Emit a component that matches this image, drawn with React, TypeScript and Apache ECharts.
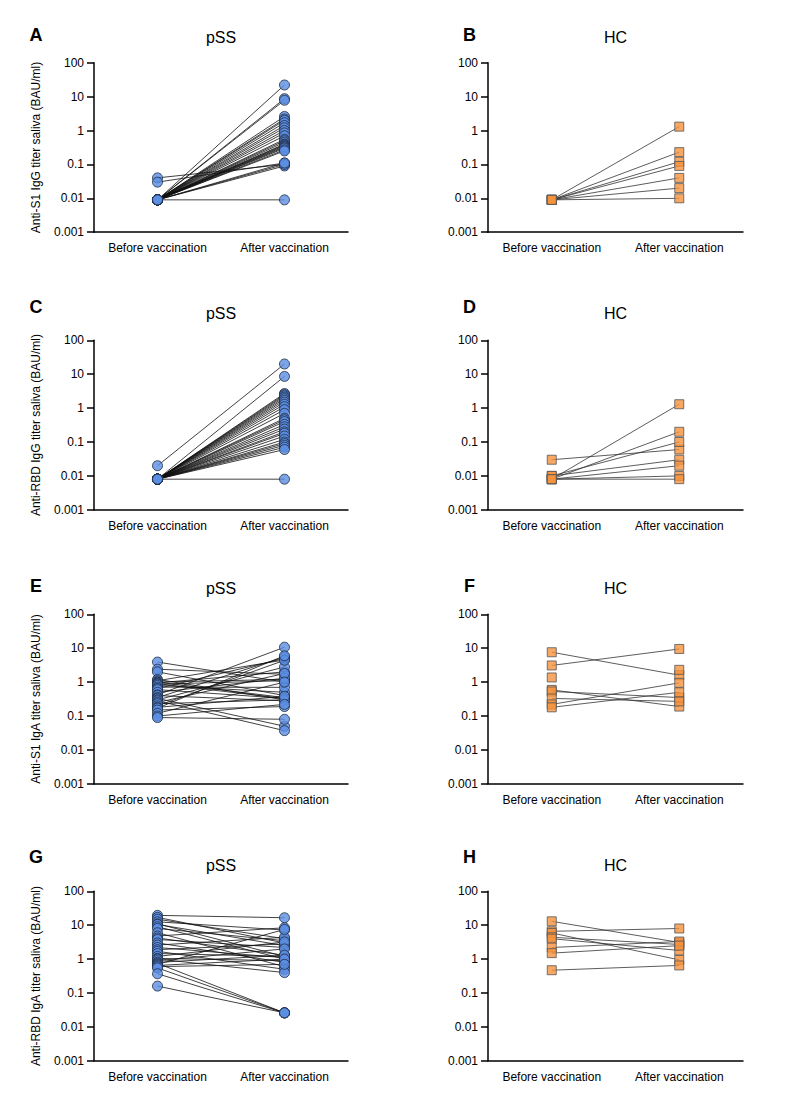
import React, { useEffect, useRef } from "react";
import * as echarts from "echarts";

const CATEGORIES = ["Before vaccination", "After vaccination"];

// Panel A: pSS anti-S1 IgG
const A_BEFORE = [0.009, 0.009, 0.009, 0.009, 0.009, 0.009, 0.009, 0.009, 0.009, 0.009, 0.009, 0.009, 0.009, 0.009, 0.009, 0.009, 0.009, 0.009, 0.009, 0.009, 0.009, 0.009, 0.009, 0.009, 0.009, 0.009, 0.04, 0.03, 0.009];
const A_AFTER = [22, 8.7, 7.8, 2.6, 2.2, 2.0, 1.7, 1.4, 1.2, 1.0, 0.85, 0.7, 0.55, 0.5, 0.45, 0.4, 0.38, 0.36, 0.34, 0.32, 0.3, 0.27, 0.25, 0.11, 0.1, 0.09, 0.1, 0.11, 0.009];

// Panel B: HC anti-S1 IgG
const B_BEFORE = [0.009, 0.009, 0.009, 0.009, 0.009, 0.009, 0.009];
const B_AFTER = [1.3, 0.23, 0.12, 0.09, 0.04, 0.02, 0.01];

// Panel C: pSS anti-RBD IgG
const C_BEFORE = [0.02, 0.008, 0.008, 0.008, 0.008, 0.008, 0.008, 0.008, 0.008, 0.008, 0.008, 0.008, 0.008, 0.008, 0.008, 0.008, 0.008, 0.008, 0.008, 0.008, 0.008, 0.008, 0.008, 0.008, 0.008, 0.008, 0.008, 0.008, 0.008];
const C_AFTER = [20, 8.6, 2.7, 2.5, 2.3, 2.1, 1.9, 1.7, 1.5, 1.3, 1.1, 0.9, 0.7, 0.5, 0.45, 0.4, 0.33, 0.28, 0.24, 0.2, 0.18, 0.15, 0.12, 0.1, 0.09, 0.08, 0.07, 0.06, 0.008];

// Panel D: HC anti-RBD IgG
const D_BEFORE = [0.03, 0.008, 0.008, 0.01, 0.01, 0.008, 0.008, 0.008];
const D_AFTER = [0.06, 1.3, 0.2, 0.1, 0.03, 0.02, 0.01, 0.008];

// Panel E: pSS anti-S1 IgA
const E_BEFORE = [3.9, 2.4, 2.0, 1.2, 1.1, 1.0, 1.0, 0.95, 0.9, 0.87, 0.8, 0.71, 0.65, 0.6, 0.5, 0.42, 0.4, 0.35, 0.33, 0.3, 0.28, 0.25, 0.23, 0.2, 0.18, 0.17, 0.15, 0.12, 0.1, 0.09];
const E_AFTER = [1.0, 1.7, 0.4, 0.3, 4.5, 1.2, 0.35, 2.0, 0.33, 1.1, 0.5, 0.7, 5.0, 0.33, 1.3, 10.7, 0.28, 5.5, 0.05, 2.8, 0.037, 1.8, 0.3, 4.4, 0.38, 6.0, 0.19, 1.0, 0.22, 0.08];

// Panel F: HC anti-S1 IgA
const F_BEFORE = [7.6, 3.1, 1.37, 0.59, 0.53, 0.33, 0.22, 0.18, null];
const F_AFTER = [1.6, 9.5, null, 0.19, 0.35, 0.27, 0.95, 0.5, 2.3];

// Panel G: pSS anti-RBD IgA
const G_BEFORE = [19.5, 17, 15, 12.6, 11, 10.5, 9, 8, 6, 4.8, 4.2, 3.8, 3.0, 2.6, 2.2, 1.9, 1.7, 1.46, 1.2, 1.05, 1.0, 0.9, 0.8, 0.75, 0.7, 0.65, 0.6, 0.55, 0.37, 0.16];
const G_AFTER = [16.6, 3.0, 4.0, 7.2, 1.2, 2.5, 1.0, 3.5, 0.6, 8.4, 1.3, 2.2, 0.8, 4.4, 1.1, 2.8, 0.5, 1.2, 3.2, 0.9, 0.4, 2.0, 1.3, 0.026, 7.5, 1.0, 0.7, 0.026, 0.026, 0.026];

// Panel H: HC anti-RBD IgA
const H_BEFORE = [13, 6.6, 5.9, 4.4, 4.0, 2.2, 1.5, 0.47];
const H_AFTER = [3.1, 8, 0.95, 2.7, 1.8, 3.3, 2.5, 0.65];

type Panel = {
  letter: string;
  title: string;
  yName: string;
  group: "pSS" | "HC";
  before: (number | null)[];
  after: (number | null)[];
};

const PANELS: Panel[] = [
  { letter: "A", title: "pSS", yName: "Anti-S1 IgG titer saliva (BAU/ml)", group: "pSS", before: A_BEFORE, after: A_AFTER },
  { letter: "B", title: "HC", yName: "", group: "HC", before: B_BEFORE, after: B_AFTER },
  { letter: "C", title: "pSS", yName: "Anti-RBD IgG titer saliva (BAU/ml)", group: "pSS", before: C_BEFORE, after: C_AFTER },
  { letter: "D", title: "HC", yName: "", group: "HC", before: D_BEFORE, after: D_AFTER },
  { letter: "E", title: "pSS", yName: "Anti-S1 IgA titer saliva (BAU/ml)", group: "pSS", before: E_BEFORE, after: E_AFTER },
  { letter: "F", title: "HC", yName: "", group: "HC", before: F_BEFORE, after: F_AFTER },
  { letter: "G", title: "pSS", yName: "Anti-RBD IgA titer saliva (BAU/ml)", group: "pSS", before: G_BEFORE, after: G_AFTER },
  { letter: "H", title: "HC", yName: "", group: "HC", before: H_BEFORE, after: H_AFTER },
];

const FONT = "'Liberation Sans', Arial, Helvetica, sans-serif";
const GRID_LEFT = [94, 488];
const GRID_WIDTH = [254, 255];
const GRID_TOP = [62.7, 340.3, 614.3, 891.3];
const GRID_HEIGHT = 169.5;
const TITLE_Y = [37.7, 313.3, 588.3, 865];
const LETTER_Y = [34.5, 306.7, 586, 856.5];
const LETTER_X = [36, 469.5];

function fmtLog(v: number): string {
  const e = Math.round(Math.log10(v));
  if (e < 0) return Math.pow(10, e).toFixed(-e);
  return String(Math.round(Math.pow(10, e)));
}

export default function App() {
  const ref = useRef<HTMLDivElement>(null);
  useEffect(() => {
    document.body.style.margin = "0";
    if (!ref.current) return;
    const chart = echarts.init(ref.current, undefined, { renderer: "svg" });
    const grid: any[] = [];
    const xAxis: any[] = [];
    const yAxis: any[] = [];
    const series: any[] = [];
    const graphic: any[] = [];
    PANELS.forEach((p, i) => {
      const row = Math.floor(i / 2);
      const col = i % 2;
      grid.push({ left: GRID_LEFT[col], top: GRID_TOP[row], width: GRID_WIDTH[col], height: GRID_HEIGHT, containLabel: false });
      xAxis.push({
        type: "category",
        gridIndex: i,
        data: CATEGORIES,
        boundaryGap: true,
        axisLine: { lineStyle: { color: "#000", width: 1.5 } },
        axisTick: { alignWithLabel: true, interval: 0, length: 7, lineStyle: { color: "#000", width: 1.5 } },
        axisLabel: { color: "#000", fontSize: 12, fontFamily: FONT, margin: 10, interval: 0, hideOverlap: false },
        splitLine: { show: false },
      });
      yAxis.push({
        type: "log",
        logBase: 10,
        gridIndex: i,
        min: 0.001,
        max: 100,
        splitNumber: 5,
        name: p.yName,
        nameLocation: "middle",
        nameGap: 52,
        nameTextStyle: { color: "#000", fontSize: 12, fontFamily: FONT },
        axisLine: { show: true, lineStyle: { color: "#000", width: 1.5 } },
        axisTick: { show: true, length: 7, lineStyle: { color: "#000", width: 1.5 } },
        axisLabel: { color: "#000", fontSize: 12, fontFamily: FONT, margin: 10, formatter: (v: number) => fmtLog(v) },
        splitLine: { show: false },
        minorTick: { show: false },
      });
      const isPSS = p.group === "pSS";
      const pts: any[] = [];
      p.before.forEach((b, k) => {
        const a = p.after[k];
        series.push({
          type: "line",
          xAxisIndex: i,
          yAxisIndex: i,
          data: [b, a],
          symbol: "none",
          showSymbol: false,
          silent: true,
          z: 2,
          lineStyle: { color: isPSS ? "#111" : "#333", width: 0.8 },
        });
        if (b != null) pts.push([0, b]);
        if (a != null) pts.push([1, a]);
      });
      series.push({
        type: "scatter",
        xAxisIndex: i,
        yAxisIndex: i,
        data: pts,
        symbol: isPSS ? "circle" : "rect",
        symbolSize: isPSS ? 10 : 9,
        z: 3,
        silent: true,
        itemStyle: isPSS
          ? { color: "#5b8fe3", borderColor: "#1e2a40", borderWidth: 1 }
          : { color: "#f5923e", borderColor: "#555", borderWidth: 1 },
      });
      graphic.push({
        type: "text",
        x: GRID_LEFT[col] + GRID_WIDTH[col] / 2,
        y: TITLE_Y[row],
        style: { text: p.title, fontSize: 16, fontFamily: FONT, fill: "#000", align: "center", verticalAlign: "middle" },
      });
      graphic.push({
        type: "text",
        x: LETTER_X[col],
        y: LETTER_Y[row],
        style: { text: p.letter, fontSize: 18, fontWeight: "bold", fontFamily: FONT, fill: "#000", align: "center", verticalAlign: "middle" },
      });
    });
    chart.setOption({
      animation: false,
      backgroundColor: "#fff",
      grid,
      xAxis,
      yAxis,
      series,
      graphic,
    });
    return () => chart.dispose();
  }, []);
  return <div ref={ref} style={{ width: 798, height: 1110 }} />;
}
